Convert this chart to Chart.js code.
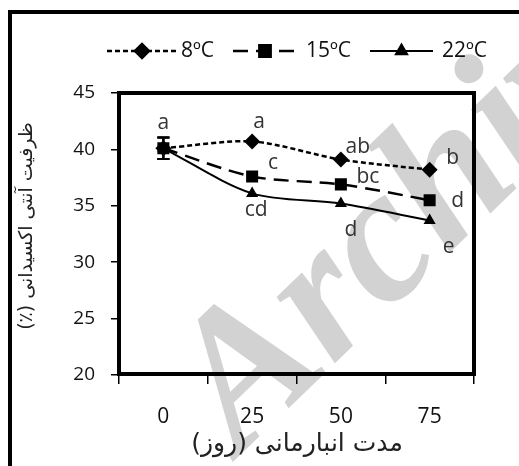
<!DOCTYPE html>
<html>
<head>
<meta charset="utf-8">
<script src="https://cdn.jsdelivr.net/npm/chart.js@4/dist/chart.umd.min.js"></script>
<style>
  html, body { margin: 0; padding: 0; background: #fff; }
  #wrap { position: relative; width: 519px; height: 466px; overflow: hidden; }
  #frame { position: absolute; left: 8px; top: 10px; width: 700px; height: 700px;
           border-left: 4px solid #000; border-top: 4px solid #000; }
  canvas { position: absolute; left: 0; top: 0; }
</style>
</head>
<body>
<div id="wrap">
  <canvas id="c" width="519" height="466"></canvas>
  <div id="frame"></div>
</div>
<script>
// Storage time (days)
const days = ['0', '25', '50', '75'];
const seriesNames = ['8ºC', '15ºC', '22ºC'];
// Antioxidant capacity (%)
const cap8 = [40.1, 40.7, 39.1, 38.2];
const cap15 = [40.1, 37.6, 36.9, 35.5];
const cap22 = [40.1, 36.1, 35.2, 33.7];
// Standard error (only the day-0 bar extends past the markers)
const err8 = [0.95, null, null, null];
const err15 = [0.95, null, null, null];
const err22 = [0.95, null, null, null];
// Duncan grouping letters
const letters8 = ['a', 'a', 'ab', 'b'];
const letters15 = ['', 'c', 'bc', 'd'];
const letters22 = ['', 'cd', 'd', 'e'];
const yTicks = [20, 25, 30, 35, 40, 45];

// where each letter sits relative to its marker (px)
const letterOffsets = [
  [[0, -25], [7, -19], [17, -13], [23, -12]],
  [[0, 0], [21, -13], [27, -7], [28, 1]],
  [[0, 0], [4, 17], [10, 26], [19, 27]]
];

const ink = '#111';
const textFont = "'Open Sans', 'Lato', sans-serif";

const decor = {
  id: 'decor',
  beforeDraw(chart) {
    const ctx = chart.ctx;
    ctx.save();
    ctx.fillStyle = '#fff';
    ctx.fillRect(0, 0, chart.width, chart.height);
    // diagonal watermark
    ctx.translate(240, 455);
    ctx.rotate(-44 * Math.PI / 180);
    ctx.fillStyle = '#d2d2d2';
    ctx.font = "italic bold 192px 'Liberation Serif', serif";
    ctx.textBaseline = 'alphabetic';
    ctx.fillText('Archive', 0, 0);
    ctx.restore();
  },
  afterDatasetsDraw(chart) {
    const ctx = chart.ctx;
    const a = chart.chartArea;
    const ys = chart.scales.y;
    // plot frame
    ctx.save();
    ctx.strokeStyle = '#000';
    ctx.lineWidth = 4;
    ctx.strokeRect(a.left, a.top, a.right - a.left, a.bottom - a.top - 1);
    ctx.restore();

    // error bars
    const errs = [err8, err15, err22];
    ctx.save();
    ctx.strokeStyle = '#000';
    ctx.lineWidth = 2;
    chart.data.datasets.forEach((ds, i) => {
      const meta = chart.getDatasetMeta(i);
      errs[i].forEach((e, j) => {
        if (e == null) return;
        const x = meta.data[j].x;
        const yt = ys.getPixelForValue(ds.data[j] + e);
        const yb = ys.getPixelForValue(ds.data[j] - e);
        ctx.beginPath();
        ctx.moveTo(x, yt); ctx.lineTo(x, yb);
        ctx.moveTo(x - 6, yt); ctx.lineTo(x + 6, yt);
        ctx.moveTo(x - 6, yb); ctx.lineTo(x + 6, yb);
        ctx.stroke();
      });
    });
    ctx.restore();

    // grouping letters
    const letters = [letters8, letters15, letters22];
    ctx.save();
    ctx.fillStyle = '#333';
    ctx.font = '21px ' + textFont;
    ctx.textAlign = 'center';
    ctx.textBaseline = 'middle';
    chart.data.datasets.forEach((ds, i) => {
      const meta = chart.getDatasetMeta(i);
      letters[i].forEach((t, j) => {
        if (!t) return;
        const p = meta.data[j];
        const o = letterOffsets[i][j];
        ctx.fillText(t, p.x + o[0], p.y + o[1]);
      });
    });
    ctx.restore();
  },
  afterDraw(chart) {
    const ctx = chart.ctx;
    // legend: line sample with marker, then label
    const items = [
      { x0: 107, x1: 177, tx: 181, r: 7 },
      { x0: 233, x1: 297, tx: 306, r: 8 },
      { x0: 370, x1: 433, tx: 442, r: 6.5 }
    ];
    const ly = 51;
    chart.data.datasets.forEach((ds, i) => {
      const it = items[i];
      ctx.save();
      ctx.strokeStyle = '#000';
      ctx.lineWidth = ds.borderWidth;
      ctx.setLineDash(ds.borderDash || []);
      ctx.beginPath();
      ctx.moveTo(it.x0, ly); ctx.lineTo(it.x1, ly);
      ctx.stroke();
      ctx.setLineDash([]);
      ctx.fillStyle = '#000';
      Chart.helpers.drawPoint(ctx, {
        pointStyle: ds.pointStyle, radius: it.r, rotation: 0, borderWidth: 1
      }, (it.x0 + it.x1) / 2, ly);
      ctx.fill();
      ctx.fillStyle = ink;
      ctx.font = '21px ' + textFont;
      ctx.textAlign = 'left';
      ctx.textBaseline = 'middle';
      ctx.fillText(ds.label, it.tx, ly);
      ctx.restore();
    });

    // axis titles
    ctx.save();
    ctx.fillStyle = '#222';
    ctx.direction = 'rtl';
    ctx.textAlign = 'center';
    ctx.textBaseline = 'middle';
    ctx.font = "25px 'DejaVu Sans', sans-serif";
    ctx.fillText('مدت انبارمانی (روز)', 297, 444);
    ctx.translate(27, 226);
    ctx.rotate(-Math.PI / 2);
    ctx.font = "19px 'DejaVu Sans', sans-serif";
    ctx.fillText('ظرفیت آنتی اکسیدانی (٪)', 0, 0);
    ctx.restore();
  }
};

new Chart(document.getElementById('c'), {
  type: 'line',
  data: {
    labels: days,
    datasets: [
      { label: seriesNames[0], data: cap8, borderColor: '#000', backgroundColor: '#000',
        borderWidth: 2.5, borderDash: [5, 3], pointStyle: 'rectRot', pointRadius: 8,
        pointBorderWidth: 0, tension: 0.3 },
      { label: seriesNames[1], data: cap15, borderColor: '#000', backgroundColor: '#000',
        borderWidth: 2.5, borderDash: [15, 8], pointStyle: 'rect', pointRadius: 8.5,
        pointBorderWidth: 0, tension: 0.3 },
      { label: seriesNames[2], data: cap22, borderColor: '#000', backgroundColor: '#000',
        borderWidth: 2, pointStyle: 'triangle', pointRadius: 7,
        pointBorderWidth: 0, tension: 0.3 }
    ]
  },
  options: {
    responsive: false,
    animation: false,
    events: [],
    layout: { padding: { left: 0, top: 93, right: 45, bottom: 0 } },
    plugins: { legend: { display: false }, tooltip: { enabled: false } },
    scales: {
      x: {
        offset: true,
        border: { display: false },
        grid: { offset: true, drawOnChartArea: false, drawTicks: true, tickLength: 9,
                color: '#000', lineWidth: 1.5 },
        ticks: { color: ink, font: { family: textFont, size: 21 }, padding: 20 },
        afterFit: s => { s.height = 91; }
      },
      y: {
        min: 20, max: 45,
        border: { display: false },
        afterBuildTicks: s => { s.ticks = yTicks.map(v => ({ value: v })); },
        grid: { drawOnChartArea: false, drawTicks: true, tickLength: 8,
                color: '#000', lineWidth: 1.5 },
        ticks: { color: ink, font: { family: textFont, size: 19 }, padding: 16 },
        afterFit: s => { s.width = 119; }
      }
    }
  },
  plugins: [decor]
});
</script>
</body>
</html>
